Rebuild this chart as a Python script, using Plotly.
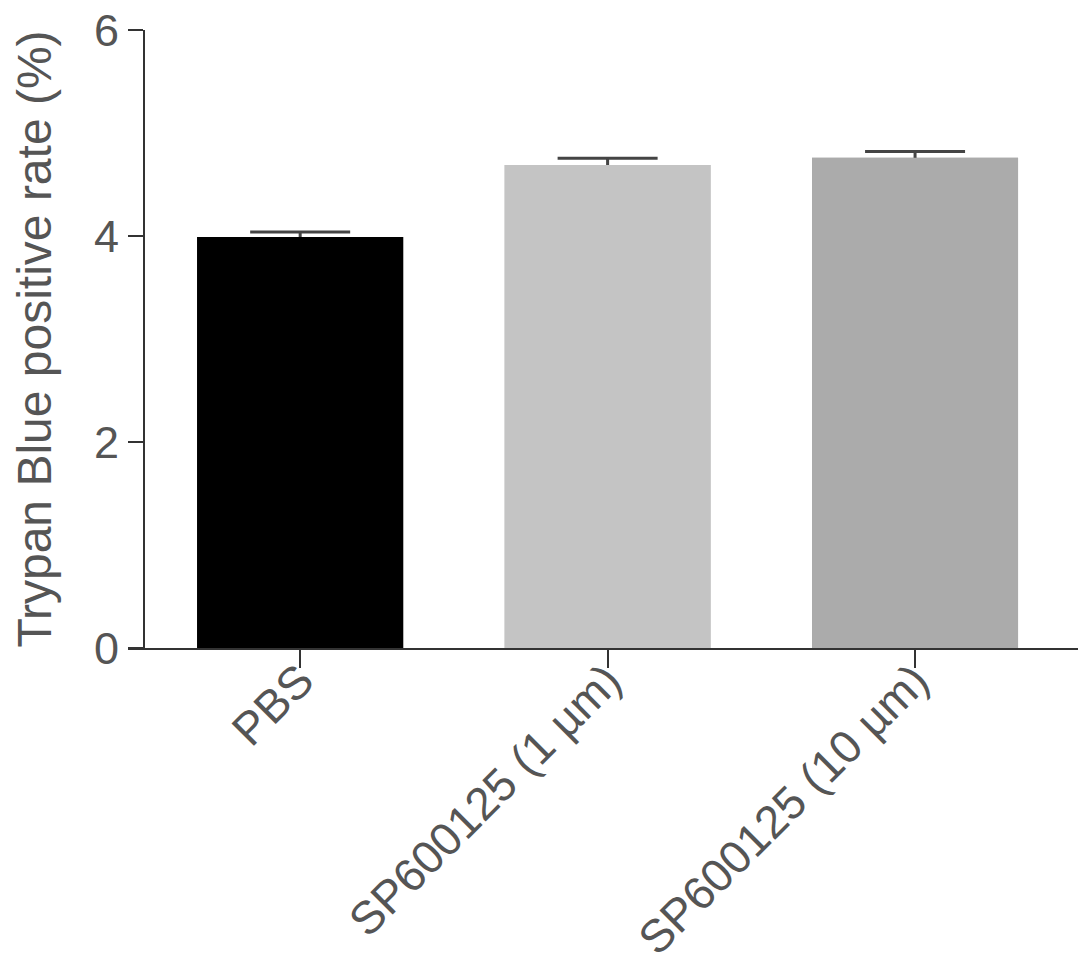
import plotly.graph_objects as go

groups = ["PBS", "SP600125 (1 µm)", "SP600125 (10 µm)"]
rates = [3.99, 4.69, 4.76]
errors = [0.05, 0.065, 0.06]
bar_colors = ["#000000", "#c4c4c4", "#ababab"]
y_ticks = [0, 2, 4, 6]

axis_color = "#333333"
text_color = "#555555"
font_family = "Liberation Sans, Arial, sans-serif"

x_pos = list(range(len(groups)))

fig = go.Figure()
# bars with SEM whiskers; a second copy of the bars on top hides the lower half
fig.add_trace(
    go.Bar(
        x=x_pos,
        y=rates,
        width=0.67,
        marker=dict(color=bar_colors, line=dict(width=0)),
        error_y=dict(
            type="data",
            array=errors,
            color="#444444",
            thickness=3,
            width=50,
        ),
    )
)
fig.add_trace(
    go.Bar(
        x=x_pos,
        y=rates,
        width=0.67,
        marker=dict(color=bar_colors, line=dict(width=0)),
        hoverinfo="skip",
    )
)

# page body has an 8px margin, so the figure is a bit smaller than the window
fig.update_layout(
    width=1071,
    height=949,
    margin=dict(l=120, r=1, t=22, b=309),
    barmode="overlay",
    plot_bgcolor="white",
    paper_bgcolor="white",
    showlegend=False,
    font=dict(family=font_family, color=text_color, size=45),
)

fig.update_xaxes(
    range=[-0.56, 2.53],
    tickmode="array",
    tickvals=x_pos,
    ticktext=groups,
    tickangle=-45,
    tickfont=dict(size=46, color=text_color),
    ticklabelstandoff=-33,
    ticklabeloverflow="allow",
    showline=True,
    linecolor=axis_color,
    linewidth=2,
    ticks="outside",
    ticklen=18,
    tickwidth=2,
    tickcolor=axis_color,
    showgrid=False,
    zeroline=False,
    automargin=False,
)

fig.update_yaxes(
    range=[0, 6],
    tickvals=y_ticks,
    anchor="free",
    position=16 / 950,
    tickfont=dict(size=45, color=text_color),
    ticklabeloverflow="allow",
    title=dict(text="Trypan Blue positive rate (%)", font=dict(size=48, color=text_color), standoff=30),
    showline=True,
    linecolor=axis_color,
    linewidth=2,
    ticks="outside",
    ticklen=15,
    tickwidth=2,
    tickcolor=axis_color,
    showgrid=False,
    zeroline=False,
    automargin=False,
)

fig.write_html("out.html")
